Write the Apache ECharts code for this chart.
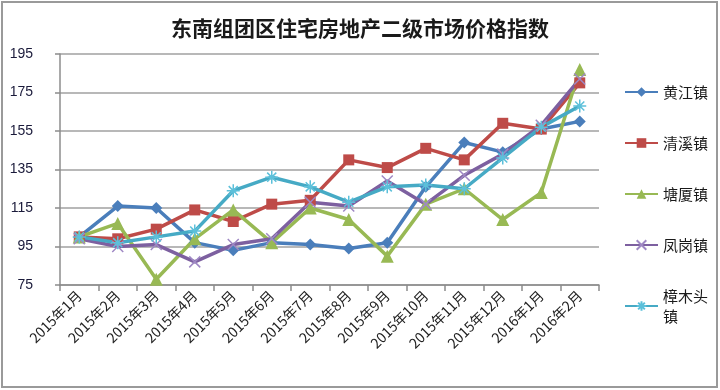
<!DOCTYPE html>
<html>
<head>
<meta charset="utf-8">
<script src="https://cdn.jsdelivr.net/npm/echarts@6/dist/echarts.min.js"></script>
<style>
html,body{margin:0;padding:0;background:#fff;}
#chart{width:720px;height:390px;}
</style>
</head>
<body>
<div id="chart"></div>
<script>
var titleText = '东南组团区住宅房地产二级市场价格指数';
var categories = ['2015年1月','2015年2月','2015年3月','2015年4月','2015年5月','2015年6月','2015年7月','2015年8月','2015年9月','2015年10月','2015年11月','2015年12月','2016年1月','2016年2月'];
var seriesNames = ['黄江镇','清溪镇','塘厦镇','凤岗镇','樟木头镇'];
var huangjiang = [100,116,115,97,93,97,96,94,97,126,149,144,156,160];
var qingxi     = [100,99,104,114,108,117,119,140,136,146,140,159,156,180];
var tangxia    = [100,107,78,99,114,97,115,109,90,117,125,109,123,187];
var fenggang   = [99,95,96,87,96,99,118,116,129,117,132,143,158,182];
var zhangmutou = [100,97,100,103,124,131,126,118,126,127,125,141,157,168];
var yMin = 75, yMax = 195, yStep = 20;

var colors = ['#4A7EBB','#BE4B48','#98B954','#7D60A0','#46AAC5'];
var symbols = ['diamond','rect','triangle','path://M0,0L10,10M10,0L0,10','path://M5,0L5,10M0,5L10,5M1.5,1.5L8.5,8.5M8.5,1.5L1.5,8.5'];
var symbolSizes = [12,11,13,11,13];
var dataSets = [huangjiang,qingxi,tangxia,fenggang,zhangmutou];

var series = dataSets.map(function(d,i){
  var isPath = i >= 3;
  return {
    name: seriesNames[i],
    type: 'line',
    yAxisIndex: 0,
    data: d,
    symbol: symbols[i],
    symbolSize: symbolSizes[i],
    showAllSymbol: true,
    lineStyle: {color: colors[i], width: 3.5},
    itemStyle: isPath ? {color: 'none', borderColor: i===3 ? '#9F88C4' : '#5CC0DA', borderWidth: 1.5}
                      : {color: colors[i], borderWidth: 0},
    emphasis: {disabled: true},
    animation: false
  };
});

var chart = echarts.init(document.getElementById('chart'));
chart.setOption({
  animation: false,
  title: {
    text: titleText, left: 'center', top: 13,
    textStyle: {fontFamily: 'Noto Sans CJK SC', fontSize: 21, fontWeight: 'bold', color: '#1a1a1a'}
  },
  legend: {
    orient: 'vertical', left: 619, top: 77, itemGap: 31,
    itemWidth: 33, itemHeight: 12,
    data: seriesNames.map(function(n,i){return {name:n};}),
    formatter: function(n){ return n === '樟木头镇' ? '樟木头\n镇' : n; },
    textStyle: {fontFamily: 'Noto Sans CJK SC', fontSize: 15, color: '#1a1a1a', lineHeight: 20}
  },
  grid: {left: 60, right: 121, top: 54, bottom: 105},
  xAxis: {
    type: 'category', data: categories, boundaryGap: true,
    axisLine: {lineStyle: {color: '#8C8C8C', width: 1.5}},
    axisTick: {show: true, length: 6, lineStyle: {color: '#8C8C8C', width: 1.5}},
    axisLabel: {rotate: 45, fontFamily: 'Noto Sans CJK SC', fontSize: 14, color: '#222', margin: 8, interval: 0}
  },
  yAxis: [{
    type: 'value', min: yMin, max: yMax, show: false,
    splitLine: {show: false}
  },{
    type: 'value', min: 0, max: yMax - yMin, interval: yStep,
    position: 'left',
    axisLine: {show: true, lineStyle: {color: '#8C8C8C', width: 1.5}},
    axisTick: {show: true, length: 5, lineStyle: {color: '#8C8C8C', width: 1.5}},
    splitLine: {show: true, lineStyle: {color: '#A0A0A0', width: 1.5}},
    axisLabel: {
      fontFamily: 'Liberation Sans', fontSize: 14, color: '#1a1a3a', margin: 27,
      formatter: function(v){ return String(v + yMin); }
    }
  }],
  series: series,
  graphic: [{
    type: 'rect', silent: true, z: 100,
    shape: {x: 2, y: 2, width: 715, height: 385},
    style: {fill: 'none', stroke: '#9A9A9A', lineWidth: 2}
  }]
});
</script>
</body>
</html>
